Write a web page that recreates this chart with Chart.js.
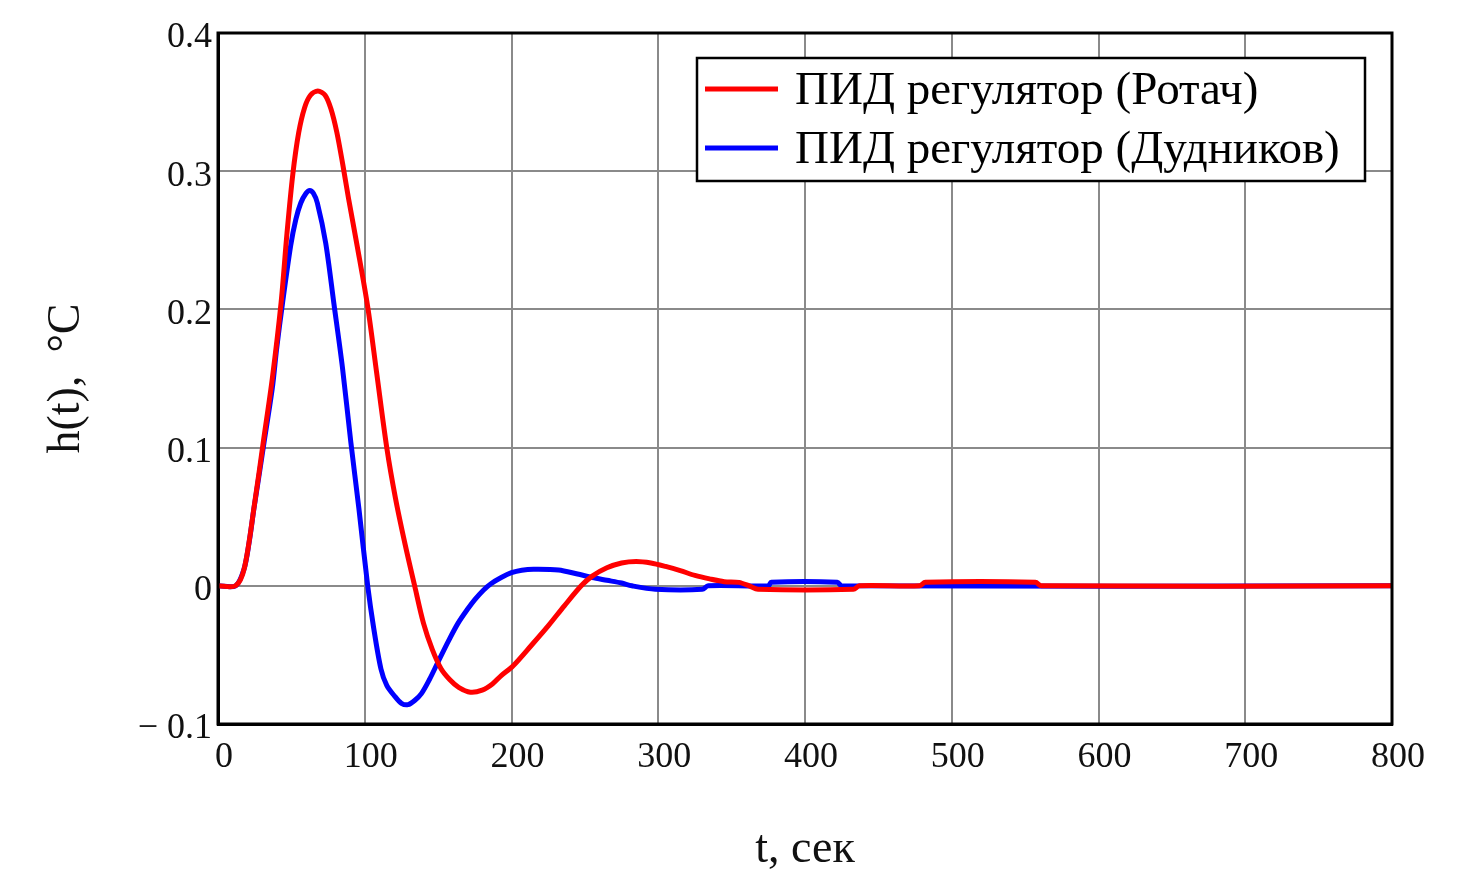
<!DOCTYPE html>
<html>
<head>
<meta charset="utf-8">
<script src="https://cdn.jsdelivr.net/npm/chart.js@4.4.1/dist/chart.umd.min.js"></script>
<style>
  html, body { margin: 0; padding: 0; background: #fff; }
</style>
</head>
<body>
<canvas id="myChart" width="1460" height="870"></canvas>
<script>
// series values
const rotachT = [0, 12, 18, 25, 31, 37, 43, 47, 51, 55, 59, 63, 68, 73, 77, 81, 85, 89, 95, 102, 108, 115, 121, 127.5, 134, 140, 146, 152, 158, 164, 172, 180, 187, 193, 201, 213.6, 225, 236, 247.5, 255, 265, 275, 285, 295, 305, 315, 325, 335, 345, 355, 362, 368, 433, 437, 478, 482, 557, 561, 800];
const rotachH = [0, 0, 0.013, 0.06, 0.105, 0.15, 0.205, 0.255, 0.298, 0.328, 0.346, 0.355, 0.358, 0.355, 0.345, 0.328, 0.305, 0.28, 0.245, 0.202, 0.155, 0.1, 0.063, 0.03, 0, -0.027, -0.046, -0.06, -0.068, -0.0735, -0.077, -0.0755, -0.071, -0.065, -0.058, -0.043, -0.029, -0.0145, 0, 0.007, 0.013, 0.0165, 0.0176, 0.0165, 0.014, 0.011, 0.0075, 0.005, 0.003, 0.0025, 0, -0.0025, -0.0025, 0, 0, 0.0025, 0.0025, 0, 0];

const dudnikovT = [0, 12, 17.7, 21, 24.5, 28, 31.4, 37, 40, 43.9, 49.5, 53, 56.4, 60, 62.5, 65, 67.7, 73.4, 79, 84.8, 90.5, 96, 102, 106, 111, 115, 120.5, 125, 129.5, 134, 138.6, 144, 150, 157, 163.6, 170, 175, 181, 186, 193, 200, 207, 215, 232, 245, 255, 265, 275, 282, 298, 330, 334, 375, 377, 422, 425, 800];
const dudnikovH = [0, 0, 0.012, 0.03, 0.056, 0.08, 0.104, 0.143, 0.172, 0.204, 0.246, 0.265, 0.277, 0.284, 0.286, 0.284, 0.277, 0.248, 0.204, 0.158, 0.104, 0.056, 0, -0.03, -0.06, -0.072, -0.08, -0.085, -0.086, -0.083, -0.078, -0.068, -0.055, -0.04, -0.027, -0.017, -0.01, -0.003, 0.0015, 0.006, 0.0095, 0.0113, 0.012, 0.0115, 0.0085, 0.006, 0.004, 0.002, 0, -0.0025, -0.0025, 0, 0, 0.0025, 0.0025, 0, 0];

const seriesNames = ['ПИД регулятор (Ротач)', 'ПИД регулятор (Дудников)'];
const seriesColors = ['#ff0000', '#0000ff'];

const xTickLabels = ['0', '100', '200', '300', '400', '500', '600', '700', '800'];
const yTickLabels = ['\u2212 0.1', '0', '0.1', '0.2', '0.3', '0.4'];

const serif = "'Liberation Serif', 'Times New Roman', serif";
const ctx = document.querySelector('#myChart').getContext('2d');

function points(ts, hs) {
  return ts.map((t, i) => ({x: t, y: hs[i]}));
}

// frame round the plot and the boxed legend in the top right
const frame = {
  id: 'frame',
  afterDraw(chart) {
    const c = chart.ctx;
    const a = chart.chartArea;
    c.save();
    c.strokeStyle = '#000';
    c.lineWidth = 3;
    c.strokeRect(a.left, a.top, a.right - a.left, a.bottom - a.top);

    const bx = a.left + 479, by = a.top + 25;
    const bw = a.right - 27 - bx, bh = 123;
    c.fillStyle = '#fff';
    c.fillRect(bx, by, bw, bh);
    c.lineWidth = 2.5;
    c.strokeRect(bx, by, bw, bh);

    c.font = '47px ' + serif;
    c.textBaseline = 'alphabetic';
    c.textAlign = 'left';
    chart.data.datasets.forEach((ds, i) => {
      const y = by + 31 + i * 59;
      c.strokeStyle = ds.borderColor;
      c.lineWidth = 5;
      c.beginPath();
      c.moveTo(bx + 8, y);
      c.lineTo(bx + 81, y);
      c.stroke();
      c.fillStyle = '#000';
      c.fillText(ds.label, bx + 98, y + 15);
    });
    c.restore();
  }
};

const datasets = [
  {label: seriesNames[0], data: points(rotachT, rotachH), borderColor: seriesColors[0], backgroundColor: seriesColors[0]},
  {label: seriesNames[1], data: points(dudnikovT, dudnikovH), borderColor: seriesColors[1], backgroundColor: seriesColors[1]}
].map(d => Object.assign(d, {
  borderWidth: 5,
  pointRadius: 0,
  tension: 0.3,
  fill: false
}));

const chart = new Chart(ctx, {
  type: 'line',
  data: {datasets: datasets},
  options: {
    responsive: false,
    animation: false,
    devicePixelRatio: 1,
    layout: {padding: {top: 33, right: 68, bottom: 0, left: 0}},
    plugins: {
      legend: {display: false},
      tooltip: {enabled: false}
    },
    scales: {
      x: {
        type: 'linear',
        min: 0,
        max: 800,
        afterFit: s => { s.height = 146; },
        grid: {color: '#8a8a8a', lineWidth: 2, drawTicks: false, z: -1},
        border: {color: '#000', width: 3},
        ticks: {
          stepSize: 100,
          padding: 12,
          labelOffset: 6,
          color: '#111',
          font: {family: serif, size: 36},
          maxRotation: 0,
          callback: (v, i) => xTickLabels[i]
        },
        title: {
          display: true,
          text: 't, сек',
          color: '#111',
          font: {family: serif, size: 46, lineHeight: 1},
          padding: {top: 0, bottom: -3}
        }
      },
      y: {
        min: -0.1,
        max: 0.4,
        afterFit: s => { s.width = 218; },
        grid: {color: '#8a8a8a', lineWidth: 2, drawTicks: false, z: -1},
        border: {color: '#000', width: 3},
        ticks: {
          stepSize: 0.1,
          padding: 6,
          labelOffset: 5,
          color: '#111',
          font: {family: serif, size: 36},
          callback: (v, i) => yTickLabels[i]
        },
        title: {
          display: true,
          text: 'h(t),  °C',
          color: '#111',
          font: {family: serif, size: 46, lineHeight: 1},
          padding: {top: 44, bottom: 0}
        }
      }
    }
  },
  plugins: [frame]
});
</script>
</body>
</html>
